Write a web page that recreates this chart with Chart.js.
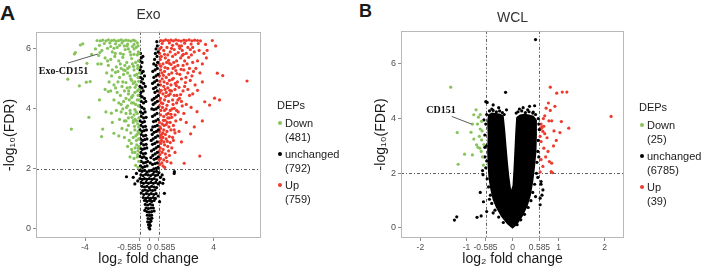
<!DOCTYPE html>
<html>
<head>
<meta charset="utf-8">
<script src="https://cdn.jsdelivr.net/npm/chart.js@4.4.1/dist/chart.umd.min.js"></script>
<style>
	body { margin: 0; background: #fff; }
	#page { position: relative; width: 706px; height: 273px; overflow: hidden; font-family: "Liberation Sans", Arial, sans-serif; color: #1a1a1a; }
	canvas { position: absolute; top: 0; }
	.tag { position: absolute; font-weight: bold; line-height: 1; }
	.legend { position: absolute; font-size: 11px; line-height: 14px; }
	.legend div { position: absolute; white-space: nowrap; }
	.legend .dot { width: 4px; height: 4px; border-radius: 50%; }
</style>
</head>
<body>
<div id="page">
	<div class="tag" style="left:0;top:2px;font-size:21px">A</div>
	<div class="tag" style="left:359px;top:2px;font-size:18px">B</div>
	<canvas id="chart-exo" width="353" height="273" style="left:0"></canvas>
	<canvas id="chart-wcl" width="353" height="273" style="left:353px"></canvas>
	<div class="legend" id="legend-exo" style="left:277px;top:98px"></div>
	<div class="legend" id="legend-wcl" style="left:639px;top:100px"></div>
</div>
<script>
// ---- data (log2 fold change, -log10 FDR) ----
const DEP_LABELS = ["Down", "unchanged", "Up"];
const EXO_COUNTS = [481, 792, 759];
const WCL_COUNTS = [25, 6785, 39];

const X_TICKS_EXO = [-4, -0.585, 0, 0.585, 4];
const X_TICKS_WCL = [-2, -1, -0.585, 0, 0.585, 1, 2];
const Y_TICKS = [0, 2, 4, 6];
const FC_CUT = [-0.585, 0.585];
const FDR_CUT = [2];

const EXO_DOWN = [
	[-3.25,6.28],[-3.05,6.27],[-2.9,6.29],[-2.7,6.27],[-2.55,6.3],[-2.35,6.28],[-2.2,6.29],[-2.05,6.26],[-1.9,6.28],[-1.75,6.3],
	[-1.6,6.27],[-1.45,6.29],[-1.3,6.28],[-1.15,6.26],[-1.0,6.29],[-0.88,6.27],[-2.8,6.18],[-2.45,6.2],[-2.1,6.17],[-1.7,6.2],
	[-1.35,6.16],[-0.95,6.15],[-3.1,6.12],[-1.55,6.1],
	[-2.95,5.95],[-2.6,6.02],[-2.3,5.9],[-2.0,6.05],[-1.8,5.85],[-1.5,5.98],[-1.2,5.9],[-0.95,6.0],[-0.75,5.8],[-2.75,5.7],
	[-2.4,5.65],[-2.15,5.75],[-1.9,5.6],[-1.65,5.72],[-1.4,5.55],[-1.1,5.68],[-0.85,5.55],[-0.68,5.9],[-3.0,5.5],[-2.55,5.45],
	[-1.25,5.4],[-0.72,5.35],[-2.05,5.4],[-1.75,5.35],[-0.95,5.3],[-3.15,5.78],[-1.05,6.08],[-0.7,6.1],
	[-2.65,5.2],[-2.35,5.1],[-2.1,5.22],[-1.85,5.05],[-1.6,5.15],[-1.35,5.2],[-1.15,5.0],[-0.9,5.12],[-0.7,5.05],[-2.5,4.9],
	[-2.2,4.8],[-1.95,4.9],[-1.7,4.75],[-1.45,4.88],[-1.2,4.72],[-1.0,4.85],[-0.8,4.8],[-0.65,4.65],[-2.4,4.6],[-2.0,4.55],
	[-1.55,4.6],[-1.3,4.5],[-0.9,4.55],[-0.7,4.45],[-2.75,4.65],[-1.8,4.45],[-1.1,4.4],[-2.3,5.3],[-1.5,5.28],[-0.62,5.2],
	[-2.2,4.3],[-1.9,4.2],[-1.6,4.25],[-1.35,4.1],[-1.1,4.2],[-0.85,4.15],[-0.68,4.1],[-2.05,3.95],[-1.75,3.9],[-1.45,3.85],
	[-1.2,3.95],[-0.95,3.8],[-0.75,3.85],[-1.85,3.65],[-1.55,3.6],[-1.3,3.7],[-1.0,3.55],[-0.8,3.6],[-0.65,3.7],[-2.3,3.55],
	[-1.1,4.38],[-0.9,3.98],[-1.65,4.0],
	[-1.7,3.35],[-1.4,3.3],[-1.15,3.2],[-0.9,3.3],[-0.7,3.25],[-1.55,3.05],[-1.25,2.95],[-1.0,3.05],[-0.8,2.95],[-0.66,3.0],
	[-1.35,2.75],[-1.1,2.65],[-0.88,2.7],[-0.7,2.6],[-1.2,2.4],[-0.95,2.35],[-0.75,2.4],[-0.65,2.25],[-0.85,2.12],[-0.7,2.05],
	[-1.05,2.55],[-1.9,3.1],[-0.78,2.8],
	[-0.68,5.6],[-0.78,5.15],[-0.9,4.9],[-1.05,5.5],[-1.2,5.1],[-1.38,4.7],[-1.52,5.45],[-1.65,4.9],[-1.8,5.5],[-0.75,4.3],
	[-0.88,3.65],[-1.02,4.45],[-1.18,3.85],[-1.28,4.6],[-1.42,4.05],[-0.66,3.4],[-0.76,3.15],[-0.98,3.62],[-1.12,2.85],[-0.68,2.7],
	[-2.2,6.02],[-2.6,5.6],[-1.3,6.0],[-0.82,6.05],
	[-0.64,5.85],[-0.74,6.2],[-0.95,5.82],[-1.15,5.8],[-1.38,6.1],[-1.62,5.82],[-1.85,6.12],[-2.12,5.85],[-2.4,6.08],[-0.72,5.45],
	[-0.98,5.42],[-1.35,5.35],[-1.6,5.3],[-1.95,5.25],[-0.66,4.92],[-0.88,4.72],[-1.1,4.95],[-1.45,4.35],[-0.74,4.6],[-0.98,4.2],
	[-1.25,4.3],[-0.64,4.3],[-0.82,3.9],[-1.08,3.72],[-0.72,3.5],[-0.92,3.42],[-1.3,3.45],[-0.64,3.2],[-0.84,3.1],[-0.72,2.48],
	[-0.9,2.55],[-0.62,2.75],[-1.45,3.6],[-1.75,4.15],[-2.1,4.7],
	[-4.66,5.83],[-4.29,6.13],[-3.88,5.52],[-5.07,4.99],[-4.35,4.77],[-3.92,4.89],[-3.68,4.91],[-3.2,5.5],[-3.76,3.72],[-4.85,3.33],
	[-2.9,3.33],[-2.36,3.86],[-2.55,4.58],[-4.14,6.17],[-4.6,5.88],[-3.59,5.82],[-2.97,3.08],[-2.2,3.19],[-3.35,6.0],[-3.1,4.3],
	[-2.7,3.9],[-3.07,5.88],
];

const EXO_UNCHANGED = [
	[-0.55,5.85],[-0.5,5.7],[-0.58,5.6],[-0.45,5.55],[-0.52,5.4],[-0.4,5.75],
	[-0.57,5.3],[-0.48,5.2],[-0.38,5.25],[-0.55,5.05],[-0.42,5.0],[-0.3,5.1],[-0.5,4.9],[-0.35,4.85],[-0.58,4.75],[-0.45,4.7],
	[-0.25,4.75],[-0.52,4.55],[-0.38,4.6],
	[-0.56,4.45],[-0.44,4.4],[-0.3,4.35],[-0.5,4.25],[-0.36,4.2],[-0.22,4.25],[-0.58,4.1],[-0.46,4.05],[-0.32,4.0],[-0.54,3.9],
	[-0.4,3.85],[-0.26,3.9],[-0.5,3.75],[-0.35,3.7],[-0.2,3.72],[-0.57,3.6],[-0.43,3.55],[-0.3,3.58],
	[-0.52,3.45],[-0.38,3.4],[-0.24,3.42],[-0.58,3.3],[-0.45,3.25],[-0.32,3.28],[-0.18,3.3],[-0.5,3.15],[-0.36,3.1],[-0.22,3.12],
	[-0.55,3.0],[-0.42,2.95],[-0.28,2.98],[-0.15,3.0],[-0.5,2.85],[-0.35,2.8],[-0.2,2.82],[-0.57,2.7],[-0.44,2.65],[-0.3,2.68],
	[-0.16,2.7],[-0.52,2.55],[-0.38,2.5],[-0.24,2.52],
	[-0.58,2.42],[-0.45,2.38],[-0.32,2.4],[-0.18,2.35],[-0.5,2.25],[-0.36,2.2],[-0.22,2.22],[-0.1,2.25],[-0.55,2.1],[-0.42,2.05],
	[-0.28,2.08],[-0.14,2.1],
	[0.47,6.24],[0.5,6.1],[0.42,6.0],[0.55,5.9],[0.38,5.85],[0.48,5.75],[0.33,5.65],[0.52,5.55],[0.42,5.45],[0.28,5.5],
	[0.5,5.35],[0.36,5.3],[0.22,5.25],[0.54,5.15],[0.42,5.1],[0.28,5.05],[0.47,4.95],[0.33,4.9],[0.2,4.85],[0.55,4.8],
	[0.4,4.72],[0.26,4.68],[0.5,4.6],[0.35,4.55],
	[0.56,4.45],[0.44,4.4],[0.3,4.35],[0.18,4.3],[0.5,4.25],[0.36,4.2],[0.24,4.15],[0.55,4.05],[0.42,4.0],[0.28,3.98],
	[0.16,4.0],[0.48,3.85],[0.34,3.8],[0.2,3.75],[0.54,3.65],[0.4,3.6],[0.26,3.58],
	[0.5,3.45],[0.36,3.42],[0.22,3.4],[0.14,3.3],[0.56,3.3],[0.44,3.25],[0.3,3.22],[0.18,3.15],[0.52,3.1],[0.38,3.05],
	[0.24,3.0],[0.12,2.95],[0.48,2.9],[0.34,2.85],[0.2,2.82],[0.55,2.75],[0.42,2.7],[0.28,2.65],[0.14,2.6],[0.5,2.55],
	[0.36,2.5],[0.22,2.45],[0.56,2.4],[0.44,2.35],[0.3,2.32],[0.1,2.38],[0.5,2.2],[0.36,2.18],[0.2,2.15],[0.06,2.2],
	[0.55,2.05],[0.42,2.02],[0.28,2.0],
	[-0.6,1.95],[-0.45,1.92],[-0.3,1.95],[-0.15,1.9],[0.0,1.93],[0.15,1.95],[0.3,1.9],[0.45,1.92],[0.6,1.88],[-0.52,1.8],
	[-0.38,1.78],[-0.22,1.82],[-0.08,1.8],[0.08,1.78],[0.22,1.82],[0.38,1.78],[0.52,1.8],[-0.58,1.68],[-0.44,1.65],[-0.3,1.68],
	[-0.16,1.65],[0.0,1.68],[0.16,1.65],[0.3,1.68],[0.46,1.64],[-0.5,1.55],[-0.36,1.52],[-0.2,1.55],[-0.05,1.52],[0.1,1.55],
	[0.25,1.52],[0.4,1.55],[0.55,1.5],[-0.72,1.6],[-1.0,1.72],[0.7,1.72],[0.66,1.55],
	[-0.45,1.42],[-0.3,1.4],[-0.15,1.42],[0.0,1.38],[0.15,1.42],[0.3,1.4],[0.45,1.38],[-0.4,1.28],[-0.25,1.3],[-0.1,1.27],
	[0.05,1.3],[0.2,1.28],[0.35,1.3],[-0.5,1.2],[-0.34,1.15],[-0.18,1.18],[-0.02,1.15],[0.12,1.18],[0.28,1.15],[0.42,1.18],
	[-0.38,1.05],[-0.22,1.02],[-0.08,1.05],[0.08,1.02],[0.24,1.05],[0.38,1.02],[0.55,1.1],
	[-0.3,0.95],[-0.15,0.92],[0.0,0.95],[0.15,0.92],[0.3,0.95],[-0.25,0.82],[-0.1,0.8],[0.05,0.83],[0.2,0.8],[-0.2,0.7],
	[-0.06,0.68],[0.1,0.7],[0.25,0.7],[-0.15,0.58],[0.0,0.56],[0.15,0.58],[-0.28,0.62],[0.3,0.6],
	[-0.12,0.46],[0.02,0.45],[0.14,0.46],[-0.08,0.35],[0.06,0.34],[0.16,0.36],[-0.1,0.24],[0.02,0.22],[0.1,0.26],[-0.05,0.14],
	[0.06,0.12],[-0.02,0.05],[0.03,0.0],
	[-1.42,1.74],[1.56,1.91],[1.55,1.85],[0.94,1.19],[0.64,0.91],[0.84,1.52],[0.8,1.8],[-0.8,1.85],[-0.9,1.5],[0.9,1.65],
];

const EXO_UP = [
	[0.72,6.28],[0.88,6.27],[1.02,6.3],[1.18,6.28],[1.35,6.29],[1.5,6.27],[1.65,6.3],[1.82,6.28],[1.98,6.26],[2.15,6.29],
	[2.3,6.28],[2.48,6.3],[2.65,6.27],[2.82,6.29],[3.0,6.28],[3.18,6.27],[0.8,6.18],[1.25,6.2],[1.7,6.17],[2.2,6.19],
	[2.6,6.16],[3.05,6.18],[1.45,6.12],[2.0,6.1],
	[0.65,6.0],[0.9,5.95],[1.1,6.05],[1.3,5.9],[1.55,5.98],[1.8,5.88],[2.05,5.95],[2.3,5.85],[2.55,5.98],[2.8,5.9],
	[3.1,5.95],[3.4,5.85],[3.55,5.7],[0.75,5.75],[1.0,5.7],[1.2,5.62],[1.45,5.75],[1.7,5.6],[1.95,5.7],[2.2,5.6],
	[2.45,5.72],[2.7,5.55],[3.0,5.6],[3.3,5.5],[0.62,5.5],[0.85,5.5],[1.35,5.48],[1.6,5.4],[2.1,5.45],[2.9,5.35],
	[3.6,5.95],[3.5,6.15],
	[0.7,5.3],[0.95,5.25],[1.15,5.35],[1.4,5.2],[1.65,5.28],[1.9,5.15],[2.15,5.3],[2.4,5.2],[2.65,5.1],[3.15,5.2],
	[0.63,5.1],[0.8,5.0],[1.05,5.05],[1.25,4.95],[1.5,5.02],[1.75,4.9],[2.0,5.0],[2.25,4.88],[2.55,4.95],[2.85,4.8],
	[0.7,4.8],[0.9,4.75],[1.15,4.7],[1.35,4.8],[1.6,4.65],[1.85,4.72],[2.1,4.6],[2.4,4.65],[0.65,4.55],[0.85,4.5],
	[1.05,4.55],[1.3,4.5],[1.55,4.45],[1.95,4.48],[2.7,4.5],[3.0,4.62],[3.3,4.9],
	[0.7,4.35],[0.95,4.3],[1.2,4.25],[1.45,4.3],[1.7,4.2],[2.0,4.25],[2.3,4.15],[2.6,4.05],[0.62,4.1],[0.82,4.05],
	[1.05,4.0],[1.3,3.95],[1.55,4.02],[1.8,3.9],[2.15,3.85],[0.7,3.8],[0.9,3.75],[1.15,3.7],[1.4,3.72],[1.65,3.6],
	[1.95,3.65],[0.63,3.55],[0.8,3.5],[1.05,3.48],[1.3,3.55],[1.5,3.45],[2.3,3.55],[0.95,3.95],[1.6,3.8],
	[0.7,3.35],[0.9,3.3],[1.1,3.25],[1.35,3.3],[1.6,3.2],[1.85,3.25],[0.65,3.1],[0.85,3.05],[1.05,3.0],[1.25,3.08],
	[1.5,2.95],[2.0,2.9],[0.72,2.85],[0.95,2.8],[1.15,2.75],[1.4,2.7],[0.63,2.6],[0.8,2.55],[1.0,2.5],[1.25,2.45],
	[0.7,2.35],[0.9,2.3],[1.1,2.25],[0.65,2.15],[0.85,2.1],[0.62,2.3],[1.6,2.55],[1.35,2.2],
	[0.68,5.65],[0.78,5.2],[0.92,4.9],[1.08,5.55],[1.22,5.15],[1.38,4.6],[1.52,5.55],[1.62,4.85],[1.78,5.45],[1.88,4.35],
	[0.75,4.2],[0.88,3.62],[1.02,4.42],[1.18,3.85],[1.28,4.62],[1.42,4.0],[1.55,3.3],[1.72,4.45],[0.66,3.4],[0.76,3.15],
	[0.98,3.62],[1.12,2.92],[1.22,3.4],[1.45,3.05],[0.68,2.7],[0.86,2.65],[0.96,2.05],[0.76,2.95],[1.08,3.82],[2.05,5.78],
	[2.35,5.5],[2.5,4.45],[2.75,5.25],[1.9,6.02],[2.7,6.05],
	[0.64,5.85],[0.74,6.05],[0.95,5.82],[1.15,5.8],[1.38,6.02],[1.62,5.82],[1.85,6.1],[2.12,5.82],[2.4,6.05],[2.62,5.8],
	[0.72,5.42],[0.98,5.38],[1.25,5.52],[1.48,5.35],[1.72,5.18],[1.98,5.32],[2.28,5.05],[2.5,5.35],[0.66,4.92],[0.88,5.12],
	[1.12,4.85],[1.42,4.98],[1.68,4.78],[2.2,4.75],[0.74,4.62],[0.98,4.65],[1.2,4.45],[1.48,4.15],[1.78,4.3],[2.05,4.1],
	[0.64,4.28],[0.84,4.18],[1.1,4.12],[1.35,3.82],[1.7,3.95],[0.72,3.95],[0.92,3.45],[1.12,3.55],[1.25,3.7],[0.64,3.25],
	[0.84,3.2],[1.0,3.15],[1.3,2.88],[0.7,3.05],[0.9,2.9],[0.66,2.48],[0.78,2.2],[1.05,2.38],[1.2,2.6],[0.62,2.9],
	[3.92,6.28],[4.13,6.1],[4.23,5.19],[4.57,5.11],[6.08,4.93],[4.06,4.36],[4.37,4.3],[3.75,4.13],[3.45,4.24],[2.97,3.91],
	[2.57,3.17],[3.14,2.43],[2.17,2.19],[3.3,3.6],[2.8,3.4],
];

const WCL_DOWN = [
	[-1.34,5.15],[-0.79,4.32],[-0.87,3.8],[-0.74,4.05],[-0.76,3.8],[-0.67,3.9],[-0.7,3.62],[-0.66,3.55],[-1.2,3.49],[-0.84,4.14],
	[-0.84,3.25],[-0.78,3.04],[-0.71,2.92],[-0.68,2.8],[-1.04,2.7],[-0.87,2.67],[-1.18,2.33],[-0.67,3.22],[-0.63,2.3],[-0.72,3.35],
	[-0.9,3.5],[-0.62,3.05],[-0.65,2.6],[-0.75,2.95],[-0.7,4.15],
];

const WCL_UP = [
	[0.82,5.15],[0.96,4.93],[1.18,4.97],[1.08,4.97],[2.14,4.08],[0.78,4.57],[0.73,4.38],[0.82,4.3],[0.85,3.92],[0.79,3.92],
	[0.63,3.65],[0.68,3.72],[1.06,3.89],[1.22,3.65],[1.03,3.49],[0.66,3.53],[0.6,3.35],[0.62,3.16],[0.89,3.0],[0.68,2.92],
	[0.77,2.8],[0.8,2.43],[0.85,2.37],[0.84,2.06],[0.87,2.02],[0.66,2.25],[0.6,2.05],[0.7,4.1],[0.75,3.3],[0.62,3.8],
	[0.6,3.6],[0.64,3.7],[0.92,4.45],[0.72,2.6],[0.9,3.55],[0.67,4.0],[0.95,3.2],[0.62,2.5],[0.7,3.45],
];

// scattered unchanged proteins around the solid core
const WCL_UNCHANGED = [
	[-0.56,4.15],[-0.58,3.8],[-0.6,3.4],[-0.57,3.0],[-0.6,2.6],[-0.58,2.2],[-0.55,1.8],[-0.52,1.5],[-0.48,1.2],[-0.45,0.9],
	[-0.38,0.65],[-0.3,0.4],[-0.2,0.2],[-0.62,3.95],[-0.6,2.95],[-0.56,2.45],[-0.64,1.95],[-0.5,1.05],[-0.42,0.55],
	[-0.5,4.28],[-0.42,4.3],[-0.35,4.25],[-0.28,4.28],[-0.22,4.22],[-0.18,4.15],[-0.45,4.35],[-0.3,4.4],[-0.13,4.32],
	[0.08,4.2],[0.12,4.25],[0.2,4.28],[0.28,4.22],[0.36,4.25],[0.44,4.2],[0.5,4.15],[0.15,4.35],[0.33,4.32],[0.23,4.4],
	[0.56,4.0],[0.58,3.6],[0.56,3.2],[0.55,2.8],[0.53,2.4],[0.52,2.0],[0.48,1.6],[0.44,1.3],[0.4,1.0],[0.34,0.75],
	[0.26,0.5],[0.18,0.3],[0.1,0.12],[0.57,3.8],[0.57,2.6],[0.55,1.85],[0.5,1.15],
	[0.5,6.89],[-0.15,4.96],[-0.58,4.62],[0.48,4.47],[-0.55,4.59],[0.45,4.24],[0.27,4.14],[-1.26,0.29],[-1.21,0.41],[-0.77,0.39],
	[-0.68,0.44],[-0.63,0.96],[-0.56,0.6],[0.6,1.09],[0.66,1.39],[0.62,1.7],[0.37,4.45],[-0.42,4.5],[-0.65,2.1],[-0.7,1.3],
	[0.62,1.6],[0.64,1.2],[0.6,0.85],
];

// outline of the solid black mass of ~6700 unchanged proteins (two lobes joined at the bottom)
const WCL_UNCHANGED_CORE = [
	[0.0,-0.03],[-0.12,0.15],[-0.25,0.42],[-0.36,0.75],[-0.43,1.03],[-0.48,1.4],[-0.52,1.8],[-0.54,2.25],[-0.55,2.8],[-0.54,3.4],
	[-0.55,3.9],[-0.53,4.15],[-0.45,4.22],[-0.35,4.2],[-0.26,4.18],[-0.19,4.1],[-0.16,3.6],[-0.13,3.0],[-0.1,2.4],[-0.07,1.9],
	[-0.03,1.4],[0.0,1.55],[0.02,2.1],[0.04,2.8],[0.06,3.5],[0.08,4.05],[0.16,4.15],[0.26,4.18],[0.36,4.15],[0.46,4.1],
	[0.53,3.95],[0.53,3.4],[0.52,2.8],[0.49,2.25],[0.45,1.7],[0.4,1.2],[0.33,0.8],[0.22,0.42],[0.1,0.12],[0.0,-0.03],
];

// ---- styling ----
const COLORS = { down: "#86C45B", unchanged: "#000000", up: "#EF3B2E", frame: "#b8b8b8", text: "#1a1a1a", tick: "#4d4d4d" };
const FONT = "'Liberation Sans', 'DejaVu Sans', Arial, sans-serif";
const NBSP = "\u00a0";

const toPoints = (pairs) => pairs.map(([x, y]) => ({ x, y }));

const scatterSet = (label, pairs, color) => ({
	label,
	data: toPoints(pairs),
	backgroundColor: color,
	pointRadius: 1.6,
	pointBorderWidth: 0,
});

// threshold lines, dense point mass, panel frame and the CD151 call-out
const panelDecor = {
	id: "panelDecor",
	beforeDatasetsDraw(chart, args, opts) {
		const { ctx, chartArea: a, scales: { x, y } } = chart;
		ctx.save();
		ctx.strokeStyle = "#333";
		ctx.lineWidth = 0.8;
		ctx.setLineDash([3, 2, 1, 2]);
		FC_CUT.forEach((v) => {
			const px = Math.round(x.getPixelForValue(v)) + 0.5;
			ctx.beginPath();
			ctx.moveTo(px, a.top);
			ctx.lineTo(px, a.bottom);
			ctx.stroke();
		});
		FDR_CUT.forEach((v) => {
			const py = Math.round(y.getPixelForValue(v)) + 0.5;
			ctx.beginPath();
			ctx.moveTo(a.left, py);
			ctx.lineTo(a.right, py);
			ctx.stroke();
		});
		ctx.setLineDash([]);

		if (opts.core) {
			ctx.fillStyle = COLORS.unchanged;
			ctx.beginPath();
			opts.core.forEach(([vx, vy], i) => {
				const px = x.getPixelForValue(vx);
				const py = y.getPixelForValue(vy);
				if (i === 0) ctx.moveTo(px, py);
				else ctx.lineTo(px, py);
			});
			ctx.closePath();
			ctx.fill();
		}
		ctx.restore();
	},
	afterDatasetsDraw(chart, args, opts) {
		const { ctx, chartArea: a, scales: { x, y } } = chart;
		ctx.save();
		ctx.strokeStyle = COLORS.frame;
		ctx.lineWidth = 1;
		ctx.strokeRect(Math.round(a.left) + 0.5, Math.round(a.top) + 0.5, Math.round(a.width) - 1, Math.round(a.height) - 1);

		const note = opts.note;
		if (note) {
			ctx.strokeStyle = "#333";
			ctx.lineWidth = 0.8;
			ctx.beginPath();
			ctx.moveTo(x.getPixelForValue(note.from[0]), y.getPixelForValue(note.from[1]));
			ctx.lineTo(x.getPixelForValue(note.to[0]), y.getPixelForValue(note.to[1]));
			ctx.stroke();
			ctx.fillStyle = "#111";
			ctx.font = "bold 10px 'Liberation Serif', 'Times New Roman', serif";
			ctx.textAlign = "center";
			ctx.textBaseline = "middle";
			ctx.fillText(note.text, x.getPixelForValue(note.at[0]), y.getPixelForValue(note.at[1]));
		}
		ctx.restore();
	},
};

const makeConfig = ({ title, datasets, xTicks, xLabel, xRange, yRange, titlePad, yWidth, yTitlePad, rightPad, note, core }) => ({
	type: "scatter",
	data: { datasets },
	plugins: [panelDecor],
	options: {
		responsive: false,
		animation: false,
		devicePixelRatio: 1,
		events: [],
		layout: { padding: { left: 0, right: rightPad, top: 0, bottom: 0 } },
		plugins: {
			legend: { display: false },
			tooltip: { enabled: false },
			title: {
				display: true,
				text: title,
				fullSize: false,
				color: "#333",
				font: { family: FONT, size: 14, weight: "normal" },
				padding: titlePad,
			},
			panelDecor: { note, core },
		},
		scales: {
			x: {
				type: "linear",
				min: xRange[0],
				max: xRange[1],
				afterBuildTicks: (scale) => {
					scale.ticks = xTicks.map((value) => ({ value }));
				},
				afterFit: (scale) => {
					scale.height = 35;
				},
				border: { display: false },
				grid: { drawOnChartArea: false, tickLength: 3, color: "#8c8c8c" },
				ticks: {
					autoSkip: false,
					maxRotation: 0,
					padding: 2,
					color: COLORS.tick,
					font: { family: FONT, size: 8.5 },
					callback: xLabel,
				},
				title: {
					display: true,
					text: "log₂ fold change",
					color: COLORS.text,
					font: { family: FONT, size: 14 },
					padding: { top: 0, bottom: 5 },
				},
			},
			y: {
				type: "linear",
				min: yRange[0],
				max: yRange[1],
				afterBuildTicks: (scale) => {
					scale.ticks = Y_TICKS.map((value) => ({ value }));
				},
				afterFit: (scale) => {
					scale.width = yWidth;
				},
				border: { display: false },
				grid: { drawOnChartArea: false, tickLength: 3, color: "#8c8c8c" },
				ticks: {
					padding: 2,
					color: COLORS.tick,
					font: { family: FONT, size: 9 },
					callback: (value) => String(value),
				},
				title: {
					display: true,
					text: "-log₁₀(FDR)",
					color: COLORS.text,
					font: { family: FONT, size: 14 },
					padding: { top: yTitlePad, bottom: 0 },
				},
			},
		},
	},
});

// in panel A the two cut-off labels are nudged apart, as in the figure
const exoLabel = (value) => {
	if (value === -0.585) return "-0.585" + NBSP.repeat(9);
	if (value === 0.585) return NBSP.repeat(5) + "0.585";
	return String(value);
};

const exoChart = new Chart(document.getElementById("chart-exo"), makeConfig({
	title: "Exo",
	datasets: [
		scatterSet("Down", EXO_DOWN, COLORS.down),
		scatterSet("unchanged", EXO_UNCHANGED, COLORS.unchanged),
		scatterSet("Up", EXO_UP, COLORS.up),
	],
	xTicks: X_TICKS_EXO,
	xLabel: exoLabel,
	xRange: [-7.05, 6.95],
	yRange: [-0.3, 6.57],
	titlePad: { top: 7, bottom: 8 },
	yWidth: 36,
	yTitlePad: 2,
	rightPad: 92,
	note: { text: "Exo-CD151", at: [-5.34, 5.25], from: [-5.06, 5.53], to: [-3.2, 5.83] },
}));

const wclChart = new Chart(document.getElementById("chart-wcl"), makeConfig({
	title: "WCL",
	datasets: [
		scatterSet("Down", WCL_DOWN, COLORS.down),
		scatterSet("unchanged", WCL_UNCHANGED, COLORS.unchanged),
		scatterSet("Up", WCL_UP, COLORS.up),
	],
	xTicks: X_TICKS_WCL,
	xLabel: (value) => String(value),
	xRange: [-2.42, 2.42],
	yRange: [-0.366, 7.21],
	titlePad: { top: 10, bottom: 4 },
	yWidth: 48,
	yTitlePad: 20,
	rightPad: 82,
	note: { text: "CD151", at: [-1.55, 4.3], from: [-1.32, 4.08], to: [-0.89, 3.8] },
	core: WCL_UNCHANGED_CORE,
}));

// legends (ggplot style, two-line labels)
const buildLegend = (el, counts) => {
	const colors = [COLORS.down, COLORS.unchanged, COLORS.up];
	let html = '<div style="left:0;top:0">DEPs</div>';
	DEP_LABELS.forEach((label, i) => {
		const top = 18 + i * 30.8;
		html += `<div class="dot" style="left:1px;top:${top + 5}px;background:${colors[i]}"></div>`;
		html += `<div style="left:8px;top:${top}px">${label}</div>`;
		html += `<div style="left:8px;top:${top + 14}px">(${counts[i]})</div>`;
	});
	el.innerHTML = html;
};
buildLegend(document.getElementById("legend-exo"), EXO_COUNTS);
buildLegend(document.getElementById("legend-wcl"), WCL_COUNTS);
</script>
</body>
</html>
